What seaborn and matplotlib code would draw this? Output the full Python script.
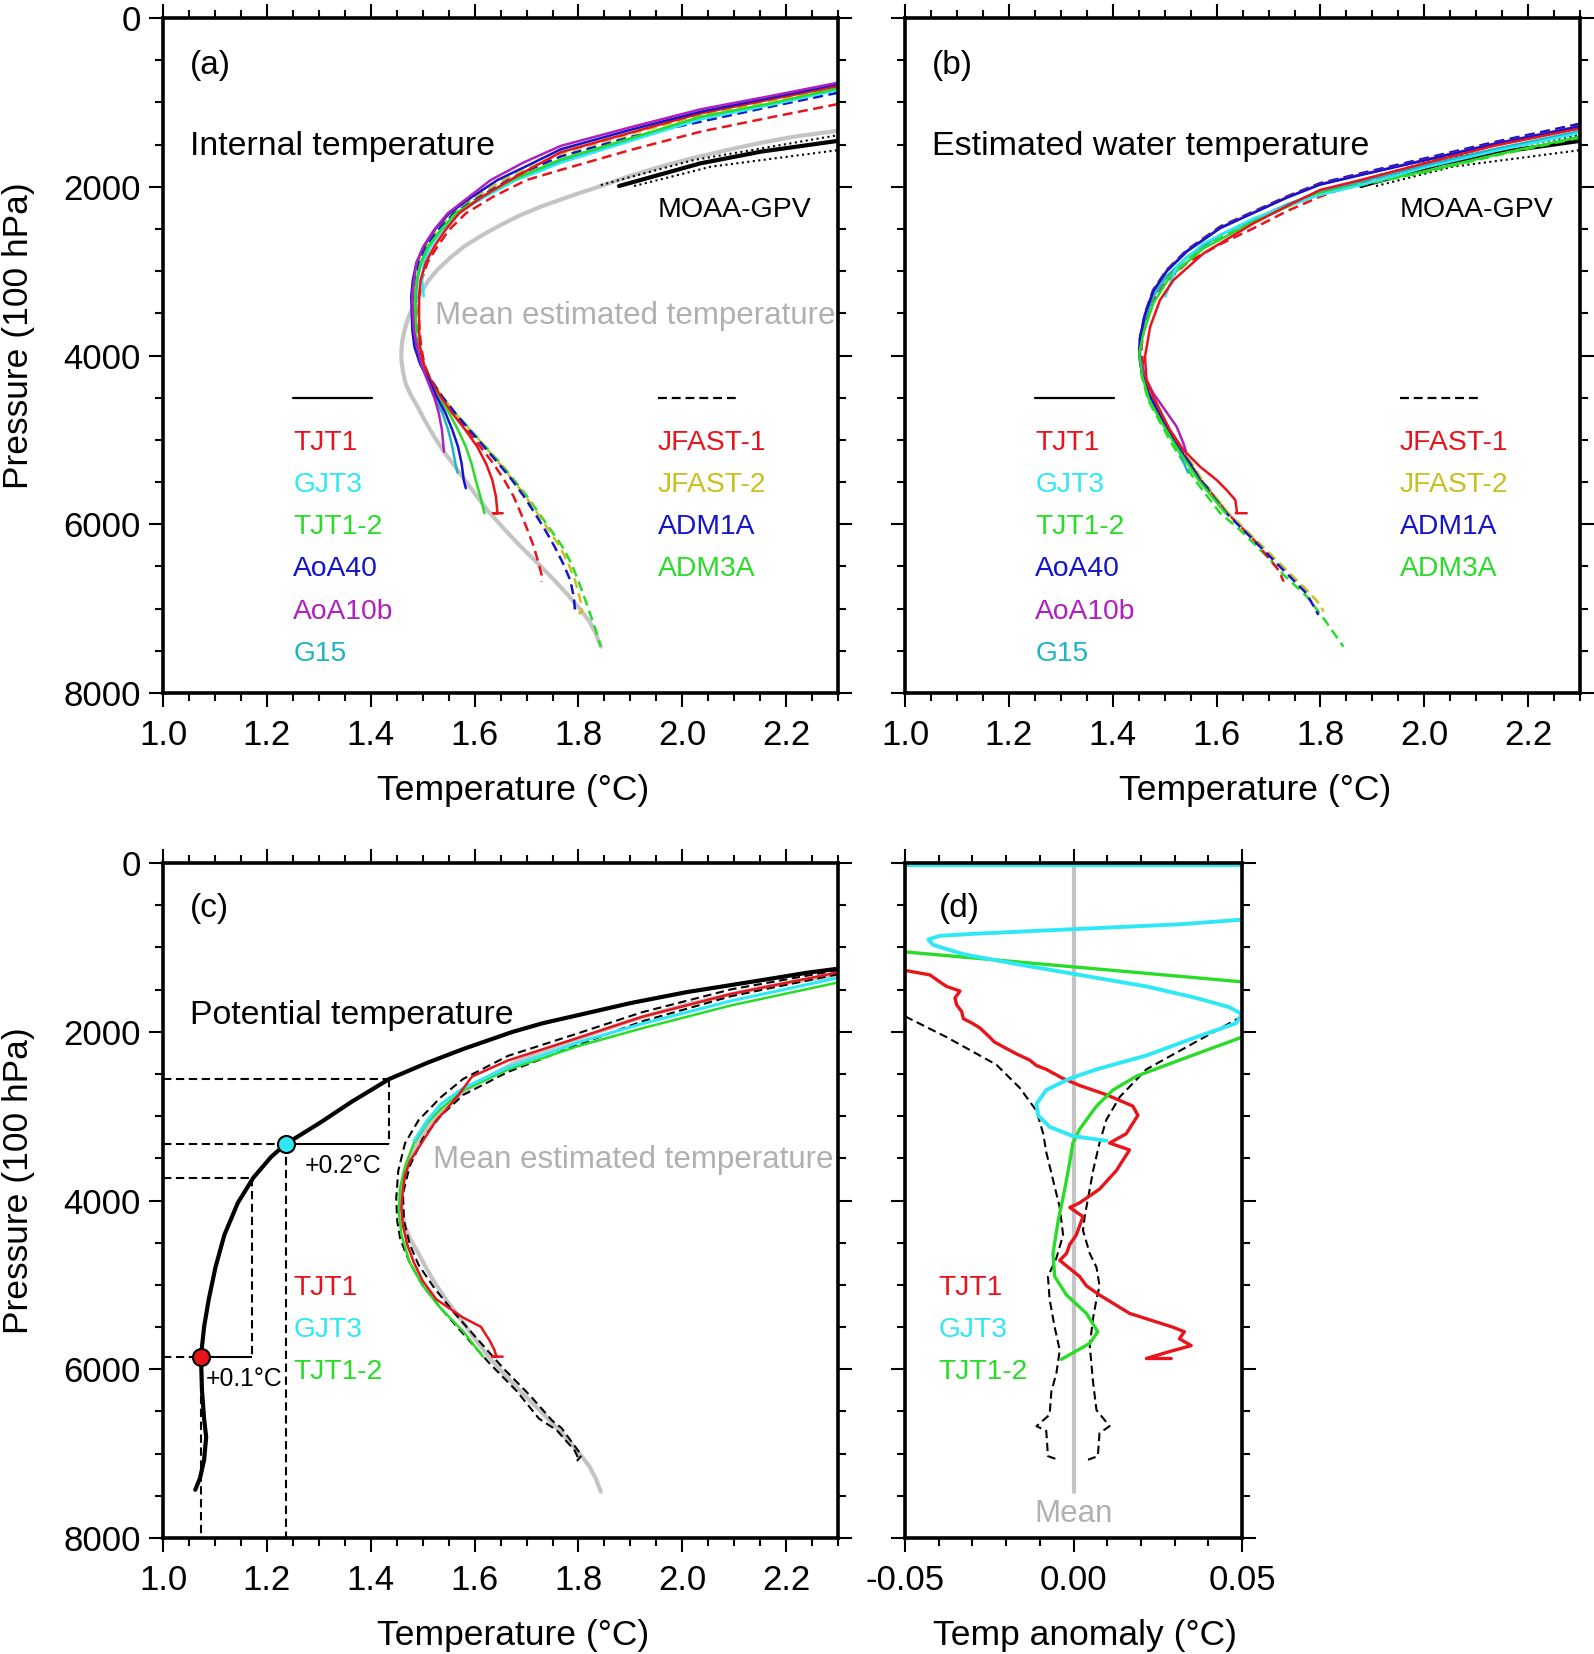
import numpy as np
import pandas as pd
import seaborn as sns
import matplotlib.pyplot as plt
from matplotlib.ticker import MultipleLocator, FixedLocator, FormatStrFormatter

sns.set_style('ticks')
plt.rcParams['font.family'] = ['Liberation Sans', 'DejaVu Sans']
plt.rcParams['axes.unicode_minus'] = False
plt.rcParams.update({'axes.edgecolor': 'black', 'xtick.color': 'black', 'ytick.color': 'black',
                     'text.color': 'black', 'axes.labelcolor': 'black'})

RED = '#e8141c'
CYAN = '#2ee8f5'
GREEN = '#28dc28'
BLUE = '#1414c8'
PURPLE = '#b020c0'
TEAL = '#1fb4c4'
OLIVE = '#c8c01e'
GREY = '#c4c4c4'
GREY_TXT = '#b0b0b0'

# ---------------- data (T in degC, P in 100 hPa) ----------------
# mean estimated temperature (grey), panels a and c
mean_T = [2.302, 2.215, 2.150, 2.087, 2.020, 1.958, 1.900, 1.843, 1.785, 1.727, 1.683, 1.644, 1.610, 1.579,
          1.552, 1.528, 1.510, 1.496, 1.483, 1.473, 1.466, 1.461, 1.459, 1.459, 1.462, 1.467, 1.477, 1.490,
          1.505, 1.522, 1.543, 1.567, 1.595, 1.624, 1.656, 1.689, 1.722, 1.753, 1.780, 1.804, 1.821, 1.833, 1.843]
mean_P = [1335, 1406, 1480, 1564, 1660, 1762, 1870, 1991, 2110, 2236, 2350, 2473, 2590, 2710,
          2845, 2986, 3120, 3262, 3400, 3539, 3677, 3815, 3935, 4052, 4190, 4329, 4467, 4605,
          4780, 4961, 5160, 5356, 5590, 5830, 6050, 6265, 6465, 6660, 6840, 7015, 7150, 7292, 7450]

# MOAA-GPV
moaa_T = [1.878, 2.035, 2.151, 2.302]
moaa_P = [1991, 1722, 1584, 1454]
moaa_hi_T = [1.843, 2.022, 2.302]
moaa_hi_P = [1979, 1683, 1386]
moaa_lo_T = [1.907, 2.055, 2.302]
moaa_lo_P = [1991, 1762, 1564]

# (a) internal temperature
a_tjt1_T = [2.300, 2.170, 2.035, 1.900, 1.766, 1.715, 1.668, 1.614, 1.570, 1.544, 1.522, 1.506, 1.496, 1.493, 1.493,
            1.493, 1.495, 1.502, 1.515, 1.535, 1.557, 1.582, 1.605, 1.622, 1.634, 1.641, 1.644, 1.636, 1.654]
a_tjt1_P = [806, 964, 1130, 1359, 1590, 1760, 1920, 2120, 2315, 2510, 2710, 2900, 3105, 3300, 3500,
            3700, 3895, 4100, 4290, 4490, 4685, 4880, 5080, 5280, 5475, 5670, 5869, 5869, 5869]
a_gjt3_T = [2.300, 2.170, 2.035, 1.900, 1.766, 1.724, 1.680, 1.620, 1.567, 1.538, 1.515, 1.502, 1.499, 1.502]
a_gjt3_P = [853, 1031, 1200, 1457, 1715, 1820, 1920, 2120, 2315, 2510, 2710, 2900, 3105, 3300]
a_tjt12_T = [2.300, 2.170, 2.035, 1.900, 1.766, 1.718, 1.672, 1.614, 1.563, 1.535, 1.510, 1.496, 1.488, 1.485,
             1.486, 1.486, 1.490, 1.498, 1.512, 1.529, 1.551, 1.568, 1.583, 1.594, 1.602, 1.611, 1.619]
a_tjt12_P = [833, 1011, 1170, 1426, 1675, 1800, 1920, 2120, 2315, 2510, 2710, 2900, 3105, 3300,
             3500, 3700, 3895, 4100, 4290, 4490, 4685, 4880, 5080, 5280, 5475, 5670, 5869]
a_aoa40_T = [2.300, 2.170, 2.035, 1.900, 1.766, 1.705, 1.644, 1.595, 1.551, 1.523, 1.502, 1.488, 1.481,
             1.478, 1.479, 1.480, 1.484, 1.495, 1.512, 1.527, 1.544, 1.557, 1.568, 1.575, 1.579, 1.583]
a_aoa40_P = [782, 944, 1110, 1325, 1555, 1740, 1920, 2120, 2315, 2510, 2710, 2900, 3105,
             3300, 3500, 3700, 3895, 4100, 4290, 4490, 4685, 4880, 5080, 5280, 5475, 5573]
a_aoa10b_T = [2.300, 2.170, 2.035, 1.900, 1.766, 1.695, 1.631, 1.589, 1.548, 1.522, 1.501, 1.488,
              1.483, 1.480, 1.481, 1.483, 1.489, 1.497, 1.509, 1.522, 1.531, 1.537, 1.540, 1.541]
a_aoa10b_P = [766, 924, 1082, 1295, 1515, 1710, 1920, 2120, 2315, 2510, 2710, 2900,
              3105, 3300, 3500, 3700, 3895, 4100, 4290, 4490, 4685, 4880, 5080, 5139]
a_g15_T = [2.300, 2.170, 2.035, 1.900, 1.766, 1.720, 1.672, 1.615, 1.565, 1.535, 1.512, 1.497, 1.490,
           1.487, 1.486, 1.486, 1.488, 1.496, 1.509, 1.522, 1.538, 1.549, 1.557, 1.563, 1.567]
a_g15_P = [840, 1020, 1185, 1440, 1695, 1810, 1920, 2120, 2315, 2510, 2710, 2900, 3105,
           3300, 3500, 3700, 3895, 4100, 4290, 4490, 4685, 4880, 5080, 5280, 5388]
a_jf1_T = [2.300, 2.170, 2.035, 1.900, 1.766, 1.700, 1.635, 1.583, 1.551, 1.528, 1.509, 1.498, 1.493, 1.492,
           1.494, 1.497, 1.503, 1.515, 1.535, 1.560, 1.585, 1.611, 1.636, 1.657, 1.675, 1.689, 1.702, 1.714,
           1.723, 1.729, 1.729]
a_jf1_P = [1019, 1177, 1347, 1564, 1800, 1920, 2120, 2315, 2510, 2710, 2900, 3105, 3300, 3500,
           3700, 3895, 4100, 4290, 4490, 4685, 4880, 5080, 5280, 5475, 5670, 5870, 6070, 6265,
           6460, 6600, 6680]
a_jf2_T = [2.300, 2.170, 2.035, 1.900, 1.766, 1.708, 1.655, 1.602, 1.556, 1.527, 1.505, 1.490, 1.483, 1.482,
           1.483, 1.486, 1.490, 1.500, 1.516, 1.538, 1.563, 1.591, 1.620, 1.648, 1.674, 1.698, 1.721, 1.743,
           1.764, 1.780, 1.793, 1.802, 1.806, 1.806, 1.800]
a_jf2_P = [814, 979, 1150, 1374, 1605, 1770, 1920, 2120, 2315, 2510, 2710, 2900, 3105, 3300,
           3500, 3700, 3895, 4100, 4290, 4490, 4685, 4880, 5080, 5280, 5475, 5670, 5870, 6070,
           6265, 6460, 6660, 6860, 6960, 7040, 7060]
a_adm1_T = [2.300, 2.170, 2.035, 1.900, 1.766, 1.712, 1.665, 1.610, 1.560, 1.530, 1.507, 1.493, 1.485, 1.483,
            1.484, 1.486, 1.490, 1.500, 1.516, 1.538, 1.563, 1.590, 1.618, 1.646, 1.672, 1.695, 1.716, 1.736,
            1.754, 1.770, 1.784, 1.791, 1.794]
a_adm1_P = [885, 1050, 1229, 1410, 1640, 1780, 1920, 2120, 2315, 2510, 2710, 2900, 3105, 3300,
            3500, 3700, 3895, 4100, 4290, 4490, 4685, 4880, 5080, 5280, 5475, 5670, 5870, 6070,
            6265, 6460, 6660, 6860, 7074]
a_adm3_T = [2.300, 2.170, 2.035, 1.900, 1.766, 1.718, 1.672, 1.614, 1.565, 1.533, 1.510, 1.495, 1.488, 1.486,
            1.487, 1.489, 1.492, 1.502, 1.516, 1.538, 1.563, 1.592, 1.621, 1.650, 1.676, 1.701, 1.724, 1.747,
            1.769, 1.786, 1.799, 1.811, 1.822, 1.833, 1.843]
a_adm3_P = [845, 1020, 1190, 1440, 1685, 1800, 1920, 2120, 2315, 2510, 2710, 2900, 3105, 3300,
            3500, 3700, 3895, 4100, 4290, 4490, 4685, 4880, 5080, 5280, 5475, 5670, 5870, 6070,
            6265, 6460, 6660, 6860, 7054, 7250, 7450]

# (b) estimated water temperature
b_tjt1_T = [2.300, 2.134, 2.002, 1.871, 1.799, 1.735, 1.671, 1.575, 1.517, 1.491, 1.472, 1.462, 1.465, 1.478,
            1.497, 1.510, 1.536, 1.568, 1.600, 1.619, 1.636, 1.639, 1.637, 1.658]
b_tjt1_P = [1308, 1515, 1720, 1930, 2038, 2230, 2433, 2788, 3105, 3342, 3658, 4014, 4290, 4487,
            4724, 4880, 5119, 5317, 5475, 5593, 5712, 5850, 5869, 5869]
b_gjt3_T = [2.300, 2.134, 2.002, 1.871, 1.799, 1.735, 1.671, 1.575, 1.523, 1.501]
b_gjt3_P = [1362, 1580, 1771, 1990, 2097, 2230, 2374, 2670, 2947, 3302]
b_tjt12_T = [2.300, 2.134, 2.002, 1.871, 1.799, 1.735, 1.671, 1.575, 1.510, 1.478, 1.459, 1.451, 1.457,
             1.470, 1.493, 1.520, 1.565, 1.617]
b_tjt12_P = [1406, 1625, 1815, 1980, 2077, 2240, 2414, 2729, 3065, 3381, 3737, 3974, 4250,
             4527, 4780, 5060, 5475, 5869]
b_aoa40_T = [2.300, 2.134, 2.002, 1.871, 1.799, 1.735, 1.671, 1.607, 1.543, 1.504, 1.478, 1.462, 1.452,
             1.451, 1.456, 1.469, 1.492, 1.522, 1.555, 1.567, 1.583]
b_aoa40_P = [1285, 1495, 1685, 1870, 1975, 2130, 2310, 2490, 2765, 3000, 3240, 3515, 3800,
             3974, 4211, 4448, 4724, 5060, 5350, 5475, 5573]
b_aoa10b_T = [2.300, 2.134, 2.002, 1.871, 1.799, 1.735, 1.671, 1.607, 1.543, 1.504, 1.478, 1.462, 1.453,
              1.452, 1.462, 1.478, 1.500, 1.523, 1.536, 1.541]
b_aoa10b_P = [1280, 1490, 1680, 1865, 1970, 2125, 2305, 2485, 2760, 2995, 3235, 3510, 3790,
              3990, 4250, 4448, 4640, 4843, 5040, 5139]
b_g15_T = [2.300, 2.134, 2.002, 1.871, 1.799, 1.735, 1.671, 1.607, 1.543, 1.504, 1.478, 1.462, 1.453,
           1.452, 1.458, 1.472, 1.495, 1.522, 1.545]
b_g15_P = [1340, 1555, 1745, 1950, 2060, 2210, 2390, 2570, 2830, 3060, 3300, 3570, 3850,
           4050, 4250, 4527, 4780, 5060, 5388]
b_jf1_T = [2.300, 2.134, 2.002, 1.871, 1.799, 1.735, 1.671, 1.607, 1.543, 1.504, 1.478, 1.462, 1.455, 1.460,
           1.474, 1.496, 1.526, 1.570, 1.621, 1.672, 1.720, 1.729]
b_jf1_P = [1253, 1490, 1720, 1960, 2117, 2290, 2492, 2680, 2900, 3120, 3350, 3620, 3900, 4200,
           4490, 4760, 5060, 5475, 5869, 6186, 6550, 6680]
b_jf2_T = [2.300, 2.134, 2.002, 1.871, 1.799, 1.735, 1.671, 1.607, 1.543, 1.504, 1.478, 1.462, 1.453, 1.452,
           1.458, 1.471, 1.494, 1.526, 1.552, 1.572, 1.623, 1.676, 1.728, 1.780, 1.800, 1.806]
b_jf2_P = [1260, 1478, 1668, 1855, 1955, 2112, 2290, 2468, 2745, 2980, 3218, 3495, 3777, 3974,
           4211, 4448, 4724, 5060, 5280, 5475, 5869, 6186, 6502, 6818, 6960, 7035]
b_adm1_T = [2.300, 2.134, 2.002, 1.871, 1.799, 1.735, 1.671, 1.607, 1.543, 1.504, 1.478, 1.462, 1.453, 1.451,
            1.456, 1.468, 1.491, 1.523, 1.549, 1.568, 1.619, 1.671, 1.722, 1.773, 1.796]
b_adm1_P = [1253, 1471, 1662, 1850, 1959, 2117, 2295, 2473, 2749, 2986, 3223, 3500, 3777, 3974,
            4211, 4448, 4724, 5060, 5280, 5475, 5869, 6186, 6502, 6818, 7074]
b_adm3_T = [2.300, 2.134, 2.002, 1.871, 1.799, 1.735, 1.671, 1.607, 1.543, 1.504, 1.478, 1.462, 1.453, 1.452,
            1.456, 1.468, 1.490, 1.515, 1.558, 1.607, 1.645, 1.700, 1.729, 1.773, 1.810, 1.844]
b_adm3_P = [1417, 1635, 1826, 1990, 2085, 2235, 2420, 2600, 2850, 3080, 3330, 3600, 3870, 4050,
            4250, 4527, 4780, 5060, 5475, 5869, 6067, 6400, 6600, 6850, 7150, 7450]

# (c) potential temperature
pot_T = [2.300, 2.240, 2.180, 2.100, 2.008, 1.900, 1.801, 1.730, 1.672, 1.578, 1.509, 1.436, 1.363, 1.303, 1.236,
         1.208, 1.174, 1.144, 1.118, 1.101, 1.088, 1.079, 1.073, 1.075, 1.079, 1.083, 1.079, 1.071, 1.062]
pot_P = [1252, 1300, 1361, 1440, 1530, 1660, 1800, 1900, 2003, 2204, 2367, 2558, 2830, 3075, 3331,
         3483, 3728, 4027, 4408, 4789, 5170, 5496, 5850, 6258, 6585, 6803, 7075, 7292, 7428]
c_tjt1_T = [2.300, 2.094, 1.922, 1.801, 1.664, 1.595, 1.569, 1.543, 1.526, 1.509, 1.492, 1.475, 1.466, 1.462,
            1.459, 1.462, 1.470, 1.483, 1.500, 1.526, 1.578, 1.612, 1.629, 1.638, 1.642, 1.634, 1.654]
c_tjt1_P = [1295, 1551, 1823, 2068, 2340, 2530, 2748, 2939, 3048, 3211, 3374, 3537, 3701, 3864,
            4082, 4299, 4517, 4735, 4952, 5170, 5388, 5496, 5660, 5769, 5850, 5850, 5850]
c_gjt3_T = [2.300, 2.094, 1.922, 1.801, 1.664, 1.578, 1.535, 1.509, 1.492, 1.483]
c_gjt3_P = [1361, 1633, 1905, 2122, 2422, 2667, 2857, 3048, 3211, 3292]
c_tjt12_T = [2.300, 2.094, 1.922, 1.801, 1.664, 1.578, 1.535, 1.509, 1.483, 1.466, 1.456, 1.454, 1.459,
             1.475, 1.500, 1.535, 1.578, 1.616]
c_tjt12_P = [1415, 1687, 1959, 2166, 2449, 2694, 2911, 3075, 3320, 3592, 3864, 4136, 4408,
             4735, 5007, 5279, 5551, 5850]
c_env1_T = [2.300, 2.094, 1.922, 1.801, 1.664, 1.578, 1.535, 1.492, 1.466, 1.453, 1.449, 1.451, 1.457, 1.475,
            1.500, 1.535, 1.578, 1.629, 1.681, 1.724, 1.758, 1.793, 1.801]
c_env1_P = [1268, 1497, 1769, 2014, 2286, 2558, 2775, 3048, 3320, 3646, 3973, 4245, 4462, 4735,
            5007, 5279, 5578, 5932, 6258, 6585, 6721, 6966, 7075]
c_env2_T = [2.300, 2.094, 1.922, 1.801, 1.664, 1.578, 1.535, 1.500, 1.475, 1.462, 1.464, 1.475, 1.492, 1.522,
            1.561, 1.608, 1.655, 1.707, 1.750, 1.767, 1.806, 1.797]
c_env2_P = [1317, 1578, 1877, 2150, 2476, 2748, 2993, 3265, 3592, 3918, 4245, 4517, 4762, 5034,
            5333, 5660, 5986, 6313, 6612, 6694, 7020, 7086]
# reference points on the potential temperature curve
guide_T = [1.436, 1.236, 1.172, 1.073]
guide_P = [2558, 3331, 3728, 5850]

# (d) temperature anomaly from the mean
d_tjt1_A = [-0.0500, -0.0426, -0.0400, -0.0377, -0.0337, -0.0352, -0.0347, -0.0332, -0.0327, -0.0300,
            -0.0278, -0.0250, -0.0235, -0.0199, -0.0170, -0.0130, -0.0110, -0.0081, -0.0031, 0.0018,
            0.0097, 0.0176, 0.0191, 0.0156, 0.0107, 0.0166, 0.0127, 0.0077, 0.0018, -0.0011,
            0.0028, 0.0008, -0.0011, -0.0021, -0.0041, 0.0018, 0.0038, 0.0077, 0.0166, 0.0295,
            0.0329, 0.0314, 0.0349, 0.0275, 0.0216, 0.0290]
d_tjt1_P = [1272, 1326, 1400, 1462, 1517, 1600, 1681, 1760, 1844, 1900,
            1954, 2060, 2120, 2199, 2260, 2336, 2400, 2445, 2554, 2636,
            2745, 2881, 2990, 3209, 3318, 3400, 3645, 3864, 4027, 4082,
            4191, 4409, 4518, 4627, 4709, 4900, 5010, 5119, 5337, 5501,
            5555, 5637, 5719, 5801, 5872, 5872]
d_gjt3_A = [-0.0500, 0.0500, 0.0650, 0.0500, 0.0314, 0.0018, -0.0278, -0.0396, -0.0431, -0.0416, -0.0327,
            -0.0179, 0.0018, 0.0216, 0.0364, 0.0462, 0.0500, 0.0482, 0.0364, 0.0216, 0.0068, -0.0011,
            -0.0081, -0.0110, -0.0105, -0.0071, -0.0002, 0.0097]
d_gjt3_P = [25, 25, 350, 671, 726, 780, 835, 862, 906, 971, 1080,
            1190, 1326, 1462, 1599, 1708, 1790, 1899, 2063, 2281, 2445, 2554,
            2690, 2854, 2990, 3127, 3236, 3291]
d_tjt12_A = [-0.0500, 0.0500, 0.0650, 0.0500, 0.0314, 0.0186, 0.0117, 0.0068, 0.0018, -0.0002, -0.0011,
             -0.0026, -0.0046, -0.0061, -0.0056, -0.0021, 0.0038, 0.0072, 0.0048, -0.0036]
d_tjt12_P = [1053, 1408, 1740, 2063, 2336, 2527, 2690, 2881, 3154, 3318, 3536,
             3864, 4246, 4627, 4900, 5119, 5337, 5555, 5692, 5882]
d_env1_A = [-0.0500, -0.0377, -0.0229, -0.0160, -0.0110, -0.0090, -0.0081, -0.0061, -0.0041, -0.0031,
            -0.0051, -0.0076, -0.0071, -0.0056, -0.0041, -0.0051, -0.0066, -0.0071, -0.0110, -0.0081,
            -0.0076, -0.0046]
d_env1_P = [1817, 2063, 2390, 2663, 2936, 3209, 3427, 3754, 4082, 4409,
            4682, 4900, 5173, 5501, 5774, 6046, 6265, 6538, 6674, 6729, 7029, 7072]
d_env2_A = [0.0500, 0.0364, 0.0216, 0.0137, 0.0097, 0.0077, 0.0058, 0.0043, 0.0033, 0.0028, 0.0048,
            0.0068, 0.0077, 0.0068, 0.0058, 0.0048, 0.0058, 0.0068, 0.0107, 0.0077, 0.0072, 0.0043]
d_env2_P = [1817, 2117, 2445, 2772, 3045, 3318, 3645, 3973, 4191, 4355, 4627,
            4791, 5010, 5173, 5392, 5719, 6155, 6483, 6674, 6756, 7029, 7072]
d_mean_A = [0.0, 0.0]
d_mean_P = [0, 7450]

left_labels = ['TJT1', 'GJT3', 'TJT1-2', 'AoA40', 'AoA10b', 'G15']
left_colors = [RED, CYAN, GREEN, BLUE, PURPLE, TEAL]
right_labels = ['JFAST-1', 'JFAST-2', 'ADM1A', 'ADM3A']
right_colors = [RED, OLIVE, BLUE, GREEN]
label_P = [5035, 5535, 6035, 6535, 7035, 7535]

DASH = (0, (4.0, 2.2))


def curve(ax, x, y, color, lw=1.8, ls='-'):
    sns.lineplot(x=x, y=y, sort=False, estimator=None, color=color,
                 lw=lw, ls=ls, ax=ax)


def setup(ax, xlim, xmajor, xminor, fmt, xlabel, ylabel=None, xlab_x=0.518):
    ax.set_xlim(*xlim)
    ax.set_ylim(8000, 0)
    ax.xaxis.set_major_locator(xmajor)
    ax.xaxis.set_minor_locator(MultipleLocator(xminor))
    ax.xaxis.set_major_formatter(FormatStrFormatter(fmt))
    ax.yaxis.set_major_locator(MultipleLocator(2000))
    ax.yaxis.set_minor_locator(MultipleLocator(500))
    ax.tick_params(which='both', direction='out', top=True, right=True,
                   width=1.5, labelsize=25, color='black', labelcolor='black')
    ax.tick_params(which='major', length=10)
    ax.tick_params(which='minor', length=5.5)
    ax.tick_params(axis='x', pad=9)
    ax.tick_params(axis='y', pad=6)
    for s in ax.spines.values():
        s.set_linewidth(2.6)
        s.set_color('black')
        s.set_zorder(5)
    ax.set_xlabel(xlabel, fontsize=25.5)
    ax.xaxis.set_label_coords(xlab_x, -0.120)
    if ylabel:
        ax.set_ylabel(ylabel, fontsize=25.5)
        ax.yaxis.set_label_coords(-0.190, 0.530)
    else:
        ax.set_ylabel('')
        ax.tick_params(labelleft=False)


def legend_block(ax, x_left, x_right):
    ax.plot([0.193, 0.309], [0.4375, 0.4375], color='black', lw=1.6, transform=ax.transAxes)
    ax.plot([0.733, 0.851], [0.4375, 0.4375], color='black', lw=1.6, ls=DASH, transform=ax.transAxes)
    for lab, col, p in zip(left_labels, left_colors, label_P):
        ax.text(x_left, p, lab, color=col, fontsize=20.3, va='center')
    for lab, col, p in zip(right_labels, right_colors, label_P):
        ax.text(x_right, p, lab, color=col, fontsize=20.3, va='center')


fig = plt.figure(figsize=(15.94, 16.54), dpi=100)
ax_a = fig.add_axes([0.1023, 0.5810, 0.4235, 0.4081])
ax_b = fig.add_axes([0.5678, 0.5810, 0.4235, 0.4081])
ax_c = fig.add_axes([0.1023, 0.0701, 0.4235, 0.4081])
ax_d = fig.add_axes([0.5678, 0.0701, 0.2114, 0.4081])

# ---- (a) ----
curve(ax_a, mean_T, mean_P, GREY, lw=3)
curve(ax_a, moaa_hi_T, moaa_hi_P, 'black', lw=1.5, ls=':')
curve(ax_a, moaa_lo_T, moaa_lo_P, 'black', lw=1.5, ls=':')
curve(ax_a, moaa_T, moaa_P, 'black', lw=3)
curve(ax_a, a_jf1_T, a_jf1_P, RED, ls=DASH)
curve(ax_a, a_adm3_T, a_adm3_P, GREEN, ls=DASH)
curve(ax_a, a_jf2_T, a_jf2_P, OLIVE, ls=DASH)
curve(ax_a, a_adm1_T, a_adm1_P, BLUE, ls=DASH)
curve(ax_a, a_g15_T, a_g15_P, TEAL)
curve(ax_a, a_gjt3_T, a_gjt3_P, CYAN)
curve(ax_a, a_tjt12_T, a_tjt12_P, GREEN)
curve(ax_a, a_tjt1_T, a_tjt1_P, RED)
curve(ax_a, a_aoa40_T, a_aoa40_P, BLUE)
curve(ax_a, a_aoa10b_T, a_aoa10b_P, PURPLE)
setup(ax_a, (1.0, 2.3), MultipleLocator(0.2), 0.05, '%.1f', 'Temperature (°C)', 'Pressure (100 hPa)')
ax_a.text(1.051, 560, '(a)', fontsize=24, va='center')
ax_a.text(1.051, 1525, 'Internal temperature', fontsize=24.4, va='center')
ax_a.text(1.953, 2280, 'MOAA-GPV', fontsize=20.5, va='center')
ax_a.text(1.524, 3535, 'Mean estimated temperature', color=GREY_TXT, fontsize=22.5, va='center')
legend_block(ax_a, 1.251, 1.953)

# ---- (b) ----
curve(ax_b, moaa_hi_T, moaa_hi_P, 'black', lw=1.5, ls=':')
curve(ax_b, moaa_lo_T, moaa_lo_P, 'black', lw=1.5, ls=':')
curve(ax_b, moaa_T, moaa_P, 'black', lw=3)
curve(ax_b, b_adm3_T, b_adm3_P, GREEN, ls=DASH)
curve(ax_b, b_jf1_T, b_jf1_P, RED, ls=DASH)
curve(ax_b, b_jf2_T, b_jf2_P, OLIVE, ls=DASH)
curve(ax_b, b_adm1_T, b_adm1_P, BLUE, ls=DASH)
curve(ax_b, b_g15_T, b_g15_P, TEAL)
curve(ax_b, b_aoa10b_T, b_aoa10b_P, PURPLE)
curve(ax_b, b_aoa40_T, b_aoa40_P, BLUE)
curve(ax_b, b_tjt12_T, b_tjt12_P, GREEN)
curve(ax_b, b_gjt3_T, b_gjt3_P, CYAN)
curve(ax_b, b_tjt1_T, b_tjt1_P, RED)
setup(ax_b, (1.0, 2.3), MultipleLocator(0.2), 0.05, '%.1f', 'Temperature (°C)')
ax_b.text(1.051, 560, '(b)', fontsize=24, va='center')
ax_b.text(1.051, 1525, 'Estimated water temperature', fontsize=24.5, va='center')
ax_b.text(1.953, 2280, 'MOAA-GPV', fontsize=20.5, va='center')
legend_block(ax_b, 1.251, 1.953)

# ---- (c) ----
curve(ax_c, mean_T, mean_P, GREY, lw=3)
curve(ax_c, c_env1_T, c_env1_P, 'black', lw=1.5, ls=DASH)
curve(ax_c, c_env2_T, c_env2_P, 'black', lw=1.5, ls=DASH)
curve(ax_c, c_tjt12_T, c_tjt12_P, GREEN)
curve(ax_c, c_gjt3_T, c_gjt3_P, CYAN, lw=2.2)
curve(ax_c, c_tjt1_T, c_tjt1_P, RED)
curve(ax_c, pot_T, pot_P, 'black', lw=3)
gkw = dict(color='black', lw=1.5, ls=DASH)
ax_c.hlines(guide_P[0], 1.0, guide_T[0], **gkw)
ax_c.vlines(guide_T[0], guide_P[0], guide_P[1], **gkw)
ax_c.hlines(guide_P[1], 1.0, guide_T[1], **gkw)
ax_c.hlines(guide_P[1], guide_T[1], guide_T[0], color='black', lw=1.5)
ax_c.vlines(guide_T[1], guide_P[1], 8000, **gkw)
ax_c.hlines(guide_P[2], 1.0, guide_T[2], **gkw)
ax_c.vlines(guide_T[2], guide_P[2], guide_P[3], **gkw)
ax_c.hlines(guide_P[3], 1.0, guide_T[3], **gkw)
ax_c.hlines(guide_P[3], guide_T[3], guide_T[2], color='black', lw=1.5)
ax_c.vlines(guide_T[3], guide_P[3], 8000, **gkw)
sns.scatterplot(x=guide_T[1:2], y=guide_P[1:2], color=CYAN, s=150, edgecolor='black',
                linewidth=1.5, zorder=6, ax=ax_c)
sns.scatterplot(x=guide_T[3:4], y=guide_P[3:4], color=RED, s=150, edgecolor='black',
                linewidth=1.5, zorder=6, ax=ax_c)
setup(ax_c, (1.0, 2.3), MultipleLocator(0.2), 0.05, '%.1f', 'Temperature (°C)', 'Pressure (100 hPa)')
ax_c.text(1.051, 535, '(c)', fontsize=24, va='center')
ax_c.text(1.051, 1810, 'Potential temperature', fontsize=24.4, va='center')
ax_c.text(1.520, 3520, 'Mean estimated temperature', color=GREY_TXT, fontsize=22.5, va='center')
ax_c.text(1.273, 3590, '+0.2°C', fontsize=17.8, va='center')
ax_c.text(1.082, 6110, '+0.1°C', fontsize=17.8, va='center')
for lab, col, p in zip(left_labels[:3], left_colors[:3], label_P[:3]):
    ax_c.text(1.251, p, lab, color=col, fontsize=20.3, va='center')

# ---- (d) ----
curve(ax_d, d_mean_A, d_mean_P, GREY, lw=3)
curve(ax_d, d_env1_A, d_env1_P, 'black', lw=1.5, ls=DASH)
curve(ax_d, d_env2_A, d_env2_P, 'black', lw=1.5, ls=DASH)
curve(ax_d, d_tjt1_A, d_tjt1_P, RED, lw=2.4)
curve(ax_d, d_tjt12_A, d_tjt12_P, GREEN, lw=2.4)
curve(ax_d, d_gjt3_A, d_gjt3_P, CYAN, lw=2.8)
setup(ax_d, (-0.05, 0.05), FixedLocator([-0.05, 0.0, 0.05]), 0.01, '%.2f', 'Temp anomaly (°C)',
      xlab_x=0.533)
ax_d.text(-0.040, 535, '(d)', fontsize=24, va='center')
for lab, col, p in zip(left_labels[:3], left_colors[:3], label_P[:3]):
    ax_d.text(-0.040, p, lab, color=col, fontsize=20.3, va='center')
ax_d.text(0.0, 7720, 'Mean', color=GREY_TXT, fontsize=22.5, ha='center', va='center')

fig.savefig('out.png', dpi=100)
